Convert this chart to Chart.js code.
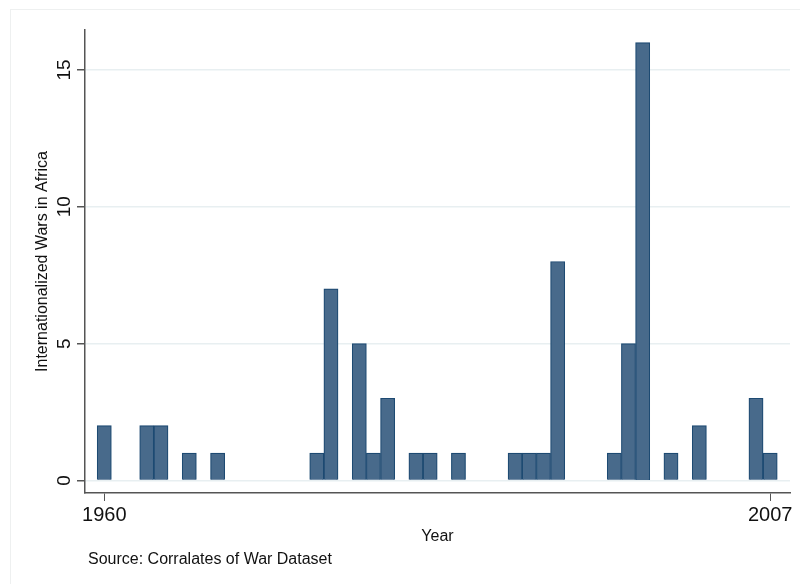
<!DOCTYPE html>
<html>
<head>
<meta charset="utf-8">
<script src="https://cdn.jsdelivr.net/npm/chart.js@4"></script>
<style>
    html, body { margin: 0; padding: 0; background: #fff; }
    #wrap { position: relative; width: 800px; height: 584px; }
    #frame { position: absolute; left: 10px; top: 9px; right: 0; bottom: 0; border-left: 1px solid #eef0f0; border-top: 1px solid #eef0f0; }
    #chart { position: absolute; left: 0; top: 0; }
    #source { position: absolute; left: 88px; top: 550px; font: 16px "Liberation Sans", Arial, sans-serif; color: #111; }
</style>
</head>
<body>
<div id="wrap">
    <div id="frame"></div>
    <canvas id="chart" width="800" height="584"></canvas>
    <div id="source">Source: Corralates of War Dataset</div>
</div>
<script>
// Data
const years = [1960, 1963, 1964, 1966, 1968, 1975, 1976, 1978, 1979, 1980, 1982, 1983, 1985,
               1989, 1990, 1991, 1992, 1996, 1997, 1998, 2000, 2002, 2006, 2007];
const wars = [2, 2, 2, 1, 1, 1, 7, 5, 1, 3, 1, 1, 1,
              1, 1, 1, 8, 1, 5, 16, 1, 2, 3, 1];
const xTicks = [1960, 2007];
const yTicks = [0, 5, 10, 15];

const font = '"Liberation Sans", Arial, sans-serif';

// Draw rotated y tick labels
const yLabels = {
    id: 'yLabels',
    afterDraw(chart) {
        const ctx = chart.ctx;
        const y = chart.scales.y;
        ctx.save();
        ctx.fillStyle = '#111';
        ctx.font = '19px ' + font;
        ctx.textAlign = 'center';
        ctx.textBaseline = 'middle';
        yTicks.forEach(v => {
            ctx.save();
            ctx.translate(65, y.getPixelForValue(v));
            ctx.rotate(-Math.PI / 2);
            ctx.fillText(String(v), 0, 0);
            ctx.restore();
        });
        ctx.restore();
    }
};

const ctx = document.getElementById('chart').getContext('2d');
new Chart(ctx, {
    type: 'bar',
    data: {
        datasets: [{
            data: years.map((yr, i) => ({ x: yr, y: wars[i] })),
            backgroundColor: '#486a8b',
            borderColor: '#1d4a72',
            borderWidth: 1.2,
            barPercentage: 1,
            categoryPercentage: 1
        }]
    },
    options: {
        responsive: false,
        animation: false,
        layout: { padding: { left: 33, right: 10, top: 30, bottom: 38 } },
        plugins: { legend: { display: false }, tooltip: { enabled: false } },
        scales: {
            x: {
                type: 'linear',
                offset: false,
                min: 1958.64,
                max: 2008.4,
                afterBuildTicks: s => { s.ticks = xTicks.map(v => ({ value: v })); },
                afterFit: s => { s.height = 53; },
                grid: { display: true, drawOnChartArea: false, tickLength: 8, tickColor: '#555', offset: false },
                border: { color: '#555', width: 1.5 },
                ticks: { color: '#111', font: { family: font, size: 20 }, padding: 2, maxRotation: 0, callback: v => String(v) },
                title: { display: true, text: 'Year', color: '#111', font: { family: font, size: 16 }, padding: { top: 0, bottom: 0 } }
            },
            y: {
                min: -0.46,
                max: 16.46,
                afterBuildTicks: s => { s.ticks = yTicks.map(v => ({ value: v })); },
                afterFit: s => { s.width = 52; },
                grid: { color: '#e8eff1', lineWidth: 1.5, tickLength: 8, tickColor: '#555' },
                border: { color: '#555', width: 1.5 },
                ticks: { display: true, color: 'rgba(0,0,0,0)', font: { family: font, size: 1 } },
                title: { display: true, text: 'Internationalized Wars in Africa', color: '#111', font: { family: font, size: 16 }, padding: { top: 0, bottom: 0 } }
            }
        }
    },
    plugins: [yLabels]
});
</script>
</body>
</html>
